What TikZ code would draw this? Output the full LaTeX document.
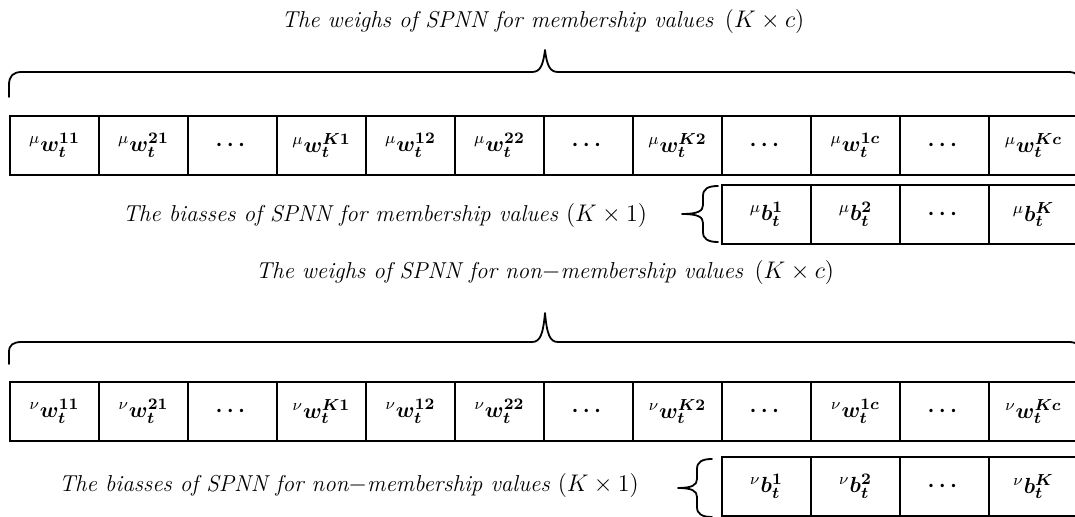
\documentclass[tikz,border=0pt]{standalone}
\usepackage{amsmath, amssymb}
\usepackage{bm}
\usepackage{tikz}
\usetikzlibrary{positioning, calc}

\newcommand{\wlab}[2]{${}^{#1}\bm{w}_{\bm{t}}^{\bm{#2}}$}
\newcommand{\blab}[2]{${}^{#1}\bm{b}_{\bm{t}}^{\bm{#2}}$}
\newcommand{\dotlab}{$\bm{\cdots}$}

\tikzset{
    cell/.style={draw, line width=1pt, minimum width=44.5pt, minimum height=29.5pt,
        inner sep=0pt, outer sep=0pt, font=\fontsize{11}{13}\selectfont},
    caption/.style={anchor=base, inner sep=0pt, font=\fontsize{11.5}{14}\selectfont\itshape},
    bracepath/.style={line width=0.9pt, line cap=round, line join=round}
}

\begin{document}
\begin{tikzpicture}[x=0.5pt, y=0.5pt]
    \useasboundingbox (0,0) rectangle (1075,517);
    \clip (0,0) rectangle (1075,517);

    % weights, membership
    \node [cell, anchor=north west] (mw1) at (10,401) {\wlab{\mu}{11}};
    \node [cell, right=0pt of mw1] (mw2) {\wlab{\mu}{21}};
    \node [cell, right=0pt of mw2] (mw3) {\dotlab};
    \node [cell, right=0pt of mw3] (mw4) {\wlab{\mu}{K1}};
    \node [cell, right=0pt of mw4] (mw5) {\wlab{\mu}{12}};
    \node [cell, right=0pt of mw5] (mw6) {\wlab{\mu}{22}};
    \node [cell, right=0pt of mw6] (mw7) {\dotlab};
    \node [cell, right=0pt of mw7] (mw8) {\wlab{\mu}{K2}};
    \node [cell, right=0pt of mw8] (mw9) {\dotlab};
    \node [cell, right=0pt of mw9] (mw10) {\wlab{\mu}{1c}};
    \node [cell, right=0pt of mw10] (mw11) {\dotlab};
    \node [cell, right=0pt of mw11] (mw12) {\wlab{\mu}{Kc}};

    % biasses, membership
    \node [cell, below=5pt of mw9] (mb1) {\blab{\mu}{1}};
    \node [cell, right=0pt of mb1] (mb2) {\blab{\mu}{2}};
    \node [cell, right=0pt of mb2] (mb3) {\dotlab};
    \node [cell, right=0pt of mb3] (mb4) {\blab{\mu}{K}};

    % weights, non-membership
    \node [cell, anchor=north west] (nw1) at (10,135) {\wlab{\nu}{11}};
    \node [cell, right=0pt of nw1] (nw2) {\wlab{\nu}{21}};
    \node [cell, right=0pt of nw2] (nw3) {\dotlab};
    \node [cell, right=0pt of nw3] (nw4) {\wlab{\nu}{K1}};
    \node [cell, right=0pt of nw4] (nw5) {\wlab{\nu}{12}};
    \node [cell, right=0pt of nw5] (nw6) {\wlab{\nu}{22}};
    \node [cell, right=0pt of nw6] (nw7) {\dotlab};
    \node [cell, right=0pt of nw7] (nw8) {\wlab{\nu}{K2}};
    \node [cell, right=0pt of nw8] (nw9) {\dotlab};
    \node [cell, right=0pt of nw9] (nw10) {\wlab{\nu}{1c}};
    \node [cell, right=0pt of nw10] (nw11) {\dotlab};
    \node [cell, right=0pt of nw11] (nw12) {\wlab{\nu}{Kc}};

    % biasses, non-membership
    \node [cell, below=8pt of nw9] (nb1) {\blab{\nu}{1}};
    \node [cell, right=0pt of nb1] (nb2) {\blab{\nu}{2}};
    \node [cell, right=0pt of nb2] (nb3) {\dotlab};
    \node [cell, right=0pt of nb3] (nb4) {\blab{\nu}{K}};

    % captions
    \node [caption] (mwcap) at (543,489) {The weighs of SPNN for membership values\enspace$(K\times c)$};
    \node [caption] (mbcap) at (385,295) {The biasses of SPNN for membership values $(K\times 1)$};
    \node [caption] (nwcap) at (545,238) {The weighs of SPNN for non$-$membership values\enspace$(K\times c)$};
    \node [caption] (nbcap) at (349,25) {The biasses of SPNN for non$-$membership values $(K\times 1)$};

    % braces
    \draw [bracepath] (9,420) -- (9,432) .. controls (9,441) and (13,445) .. (22,445) -- (532,445)
        .. controls (540,445) and (543,451) .. (545,467) .. controls (547,451) and (550,445) .. (558,445)
        -- (1068,445) .. controls (1077,445) and (1081,441) .. (1081,432) -- (1081,420);
    \draw [bracepath] (9,153) -- (9,165) .. controls (9,172) and (13,175) .. (22,175) -- (532,175)
        .. controls (540,175) and (543,182) .. (545,204) .. controls (547,182) and (550,175) .. (558,175)
        -- (1068,175) .. controls (1077,175) and (1081,172) .. (1081,165) -- (1081,153);
    \draw [bracepath] (718,331) .. controls (708,331) and (703,328) .. (703,321) -- (703,312)
        .. controls (703,306) and (698,303) .. (682,303) .. controls (698,303) and (703,300) .. (703,294)
        -- (703,285) .. controls (703,278) and (708,275) .. (718,275);
    \draw [bracepath] (712,58) .. controls (702,58) and (697,55) .. (697,48) -- (697,38)
        .. controls (697,32) and (692,29) .. (678,29) .. controls (692,29) and (697,26) .. (697,20)
        -- (697,10) .. controls (697,3) and (702,0) .. (712,0);
\end{tikzpicture}
\end{document}
